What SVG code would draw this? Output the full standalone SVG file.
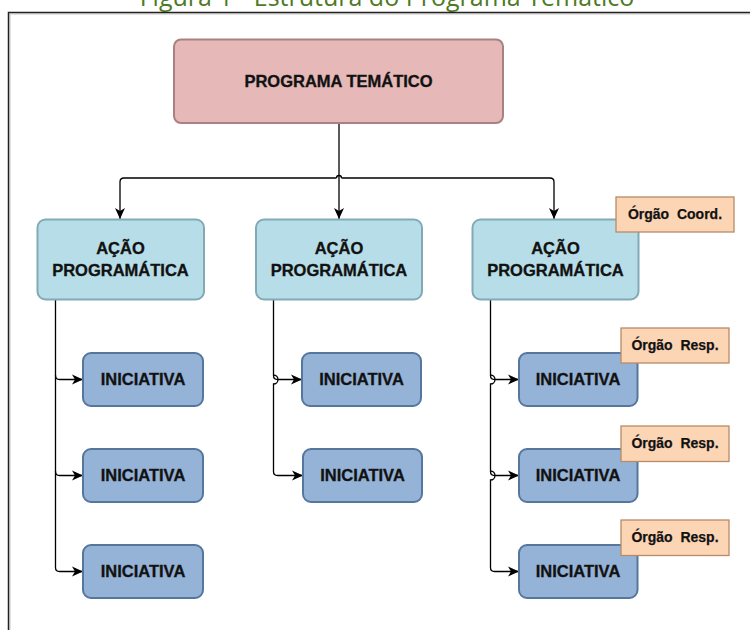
<svg xmlns="http://www.w3.org/2000/svg" width="750" height="630" viewBox="0 0 750 630">
  <style>
    .title { font-family: "Open Sans", "Noto Sans", sans-serif; font-size: 25px; fill: #4e7a27; }
    .lbl { font-family: "Liberation Sans", Arial, sans-serif; font-weight: bold; font-size: 16.5px; fill: #111; stroke: #1a1a1a; stroke-width: 0.35; text-anchor: middle; }
    .org { font-family: "Liberation Sans", Arial, sans-serif; font-weight: bold; font-size: 14px; fill: #111; stroke: #1a1a1a; stroke-width: 0.25; text-anchor: middle; }
    .prog { fill: #e6b8b7; stroke: #a98180; stroke-width: 2; }
    .acao { fill: #b7dee8; stroke: #82a9b6; stroke-width: 2; }
    .ini { fill: #95b3d7; stroke: #55769d; stroke-width: 2; }
    .tag { fill: #fcd5b5; stroke: #b88b67; stroke-width: 1.3; }
    .wire { fill: none; stroke: #000; stroke-width: 1.3; }
    .arrow { marker-end: url(#head); }
  </style>
  <defs>
    <marker id="head" markerUnits="userSpaceOnUse" markerWidth="12" markerHeight="11" refX="11" refY="5" orient="auto" overflow="visible">
      <path d="M0,0 L11,5 L0,10 L3,5 Z" fill="#000"/>
    </marker>
  </defs>

  <rect width="750" height="630" fill="#fff"/>

  <!-- caption and frame -->
  <text class="title" x="387" y="5.5" text-anchor="middle">Figura 1 - Estrutura do Programa Temático</text>
  <path d="M10,630 V14 H750" fill="none" stroke="#c8c8c8" stroke-width="1"/>
  <path d="M8.5,630 V12.5 H750" fill="none" stroke="#222" stroke-width="1.5"/>

  <!-- connectors -->
  <g id="connectors">
    <path class="wire arrow" d="M339,123 V219"/>
    <path class="wire arrow" d="M336.5,178 H124 Q120,178 120,182 V219"/>
    <path class="wire arrow" d="M341.5,178 H550 Q554,178 554,182 V219"/>
    <path class="wire" d="M336.5,178 A2.5,2.5 0 0 1 341.5,178"/>

    <path class="wire arrow" d="M55.5,299 V375.5 Q55.5,379.5 59.5,379.5 H83"/>
    <path class="wire arrow" d="M55.5,375 V471.5 Q55.5,475.5 59.5,475.5 H83"/>
    <path class="wire arrow" d="M55.5,471 V567.5 Q55.5,571.5 59.5,571.5 H83"/>

    <path class="wire arrow" d="M273.5,299 V375.5 Q273.5,379.5 277.5,379.5 H302"/>
    <path class="wire arrow" d="M273.5,375 A4.5,4.5 0 0 1 273.5,384 V471.5 Q273.5,475.5 277.5,475.5 H303"/>

    <path class="wire arrow" d="M490.5,299 V375.5 Q490.5,379.5 494.5,379.5 H519"/>
    <path class="wire arrow" d="M490.5,375 A4.5,4.5 0 0 1 490.5,384 V471.5 Q490.5,475.5 494.5,475.5 H519"/>
    <path class="wire arrow" d="M490.5,471 A4.5,4.5 0 0 1 490.5,480 V567.5 Q490.5,571.5 494.5,571.5 H519"/>
  </g>

  <!-- program -->
  <g id="programa">
    <rect class="prog" x="174" y="39.5" width="329" height="83.5" rx="7"/>
    <text class="lbl" x="338.5" y="86.5">PROGRAMA TEMÁTICO</text>
  </g>

  <!-- actions -->
  <g id="acao-1">
    <rect class="acao" x="37.5" y="219.5" width="166.5" height="80" rx="8"/>
    <text class="lbl" x="120.5" y="254">AÇÃO</text>
    <text class="lbl" x="120.5" y="276">PROGRAMÁTICA</text>
  </g>
  <g id="acao-2">
    <rect class="acao" x="256" y="219.5" width="166" height="80" rx="8"/>
    <text class="lbl" x="339" y="254">AÇÃO</text>
    <text class="lbl" x="339" y="276">PROGRAMÁTICA</text>
  </g>
  <g id="acao-3">
    <rect class="acao" x="472.5" y="219.5" width="166" height="80" rx="8"/>
    <text class="lbl" x="555.5" y="254">AÇÃO</text>
    <text class="lbl" x="555.5" y="276">PROGRAMÁTICA</text>
  </g>
  <g id="orgao-coord">
    <rect class="tag" x="616" y="197" width="118" height="35"/>
    <text class="org" x="675" y="219">Órgão&#160; Coord.</text>
  </g>

  <!-- initiatives, left -->
  <g id="ini-1-1">
    <rect class="ini" x="83" y="353" width="120" height="53" rx="8"/>
    <text class="lbl" x="143" y="385">INICIATIVA</text>
  </g>
  <g id="ini-1-2">
    <rect class="ini" x="83" y="449" width="120" height="53" rx="8"/>
    <text class="lbl" x="143" y="481">INICIATIVA</text>
  </g>
  <g id="ini-1-3">
    <rect class="ini" x="83" y="545" width="120" height="53" rx="8"/>
    <text class="lbl" x="143" y="577">INICIATIVA</text>
  </g>

  <!-- initiatives, middle -->
  <g id="ini-2-1">
    <rect class="ini" x="302" y="353" width="119" height="53" rx="8"/>
    <text class="lbl" x="361.5" y="385">INICIATIVA</text>
  </g>
  <g id="ini-2-2">
    <rect class="ini" x="303" y="449" width="119" height="53" rx="8"/>
    <text class="lbl" x="362.5" y="481">INICIATIVA</text>
  </g>

  <!-- initiatives, right -->
  <g id="ini-3-1">
    <rect class="ini" x="519" y="353" width="118.5" height="53" rx="8"/>
    <text class="lbl" x="578" y="385">INICIATIVA</text>
  </g>
  <g id="ini-3-2">
    <rect class="ini" x="519" y="449" width="118.5" height="53" rx="8"/>
    <text class="lbl" x="578" y="481">INICIATIVA</text>
  </g>
  <g id="ini-3-3">
    <rect class="ini" x="519" y="545" width="118.5" height="53" rx="8"/>
    <text class="lbl" x="578" y="577">INICIATIVA</text>
  </g>

  <!-- responsible bodies -->
  <g id="orgao-resp-1">
    <rect class="tag" x="621" y="328" width="108" height="35"/>
    <text class="org" x="675" y="350">Órgão&#160; Resp.</text>
  </g>
  <g id="orgao-resp-2">
    <rect class="tag" x="621" y="426" width="108" height="35.5"/>
    <text class="org" x="675" y="448">Órgão&#160; Resp.</text>
  </g>
  <g id="orgao-resp-3">
    <rect class="tag" x="621" y="520" width="108" height="35.5"/>
    <text class="org" x="675" y="542">Órgão&#160; Resp.</text>
  </g>
</svg>
